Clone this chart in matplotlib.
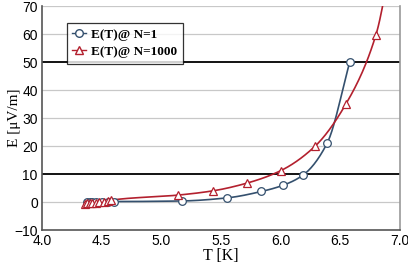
import numpy as np
import matplotlib
matplotlib.use('Agg')
import matplotlib.pyplot as plt

# Data
t_n1 = [4.38, 4.40, 4.42, 4.45, 4.50, 4.55, 4.60, 5.17, 5.55, 5.84, 6.02, 6.19, 6.39, 6.58]
e_n1 = [0.0, 0.0, 0.0, 0.1, 0.1, 0.2, 0.2, 0.4, 1.5, 3.8, 6.0, 9.7, 21.0, 50.0]

t_n1000 = [4.36, 4.38, 4.40, 4.42, 4.45, 4.48, 4.52, 4.55, 4.58, 5.14, 5.43, 5.72, 6.00, 6.29, 6.55, 6.80, 6.95]
e_n1000 = [-0.6, -0.5, -0.4, -0.3, -0.2, 0.0, 0.2, 0.4, 0.7, 2.5, 4.0, 6.8, 11.2, 20.0, 35.2, 59.8, 92.0]

blue = '#34506e'
red = '#b3202e'


def smooth(x, y, n=25):
    # monotone cubic (Fritsch-Carlson) so the curve does not overshoot
    x = np.asarray(x, float)
    y = np.asarray(y, float)
    h = np.diff(x)
    d = np.diff(y) / h
    m = np.zeros_like(y)
    m[0], m[-1] = d[0], d[-1]
    for i in range(1, len(x) - 1):
        if d[i - 1] * d[i] > 0:
            w1 = 2 * h[i] + h[i - 1]
            w2 = h[i] + 2 * h[i - 1]
            m[i] = (w1 + w2) / (w1 / d[i - 1] + w2 / d[i])
    xs, ys = [], []
    s = np.linspace(0, 1, n)
    for i in range(len(x) - 1):
        h00 = 2 * s ** 3 - 3 * s ** 2 + 1
        h10 = s ** 3 - 2 * s ** 2 + s
        h01 = -2 * s ** 3 + 3 * s ** 2
        h11 = s ** 3 - s ** 2
        xs.extend(x[i] + s * h[i])
        ys.extend(h00 * y[i] + h10 * h[i] * m[i] + h01 * y[i + 1] + h11 * h[i] * m[i + 1])
    return xs, ys


fig = plt.figure(figsize=(4.08, 2.66), dpi=100)
ax = fig.add_axes([0.103, 0.135, 0.877, 0.842])

for yv in range(-10, 71, 10):
    if yv in (10, 50):
        ax.axhline(yv, color='black', lw=1.3, zorder=1)
    elif yv != -10:
        ax.axhline(yv, color='#c8c8c8', lw=0.9, zorder=1)

sx, sy = smooth(t_n1, e_n1)
ax.plot(sx, sy, color=blue, lw=1.2, zorder=2)
ax.plot(t_n1, e_n1, 'o', ms=5.5, mfc='white', mec=blue, mew=0.9, zorder=3)

sx, sy = smooth(t_n1000, e_n1000)
ax.plot(sx, sy, color=red, lw=1.2, zorder=2)
ax.plot(t_n1000, e_n1000, '^', ms=5.5, mfc='white', mec=red, mew=0.9, zorder=3)

# legend proxies
ax.plot([], [], '-o', color=blue, lw=1.0, ms=5.5, mfc='white', mec=blue, label='E(T)@ N=1')
ax.plot([], [], '-^', color=red, lw=1.0, ms=5.5, mfc='white', mec=red, label='E(T)@ N=1000')

ax.set_xlim(4.0, 7.0)
ax.set_ylim(-10, 70)
ax.set_xticks(np.arange(4.0, 7.01, 0.5))
ax.set_yticks(range(-10, 71, 10))
ax.set_xticklabels([f'{v:.1f}' for v in np.arange(4.0, 7.01, 0.5)])
ax.tick_params(labelsize=10, length=0, pad=3)
for lab in ax.get_xticklabels() + ax.get_yticklabels():
    lab.set_family('Liberation Sans')

for sp in ('left', 'bottom'):
    ax.spines[sp].set_color('#555555')
    ax.spines[sp].set_linewidth(1.2)
ax.spines['right'].set_color('#999999')
ax.spines['right'].set_linewidth(1.2)
ax.spines['top'].set_visible(False)

ax.set_xlabel('T [K]', family='Liberation Serif', fontsize=11.5, labelpad=0)
ax.set_ylabel('E [\u03bcV/m]', family='Liberation Serif', fontsize=11)
ax.yaxis.set_label_coords(-0.058, 0.5)

leg = ax.legend(loc='upper left', bbox_to_anchor=(0.05, 0.955), frameon=True,
                fancybox=False, edgecolor='black', handlelength=1.0,
                handletextpad=0.4, borderpad=0.45, labelspacing=0.35,
                prop={'family': 'Liberation Serif', 'size': 9.5, 'weight': 'bold'})
leg.get_frame().set_linewidth(0.9)

fig.savefig('out.png', dpi=100)
